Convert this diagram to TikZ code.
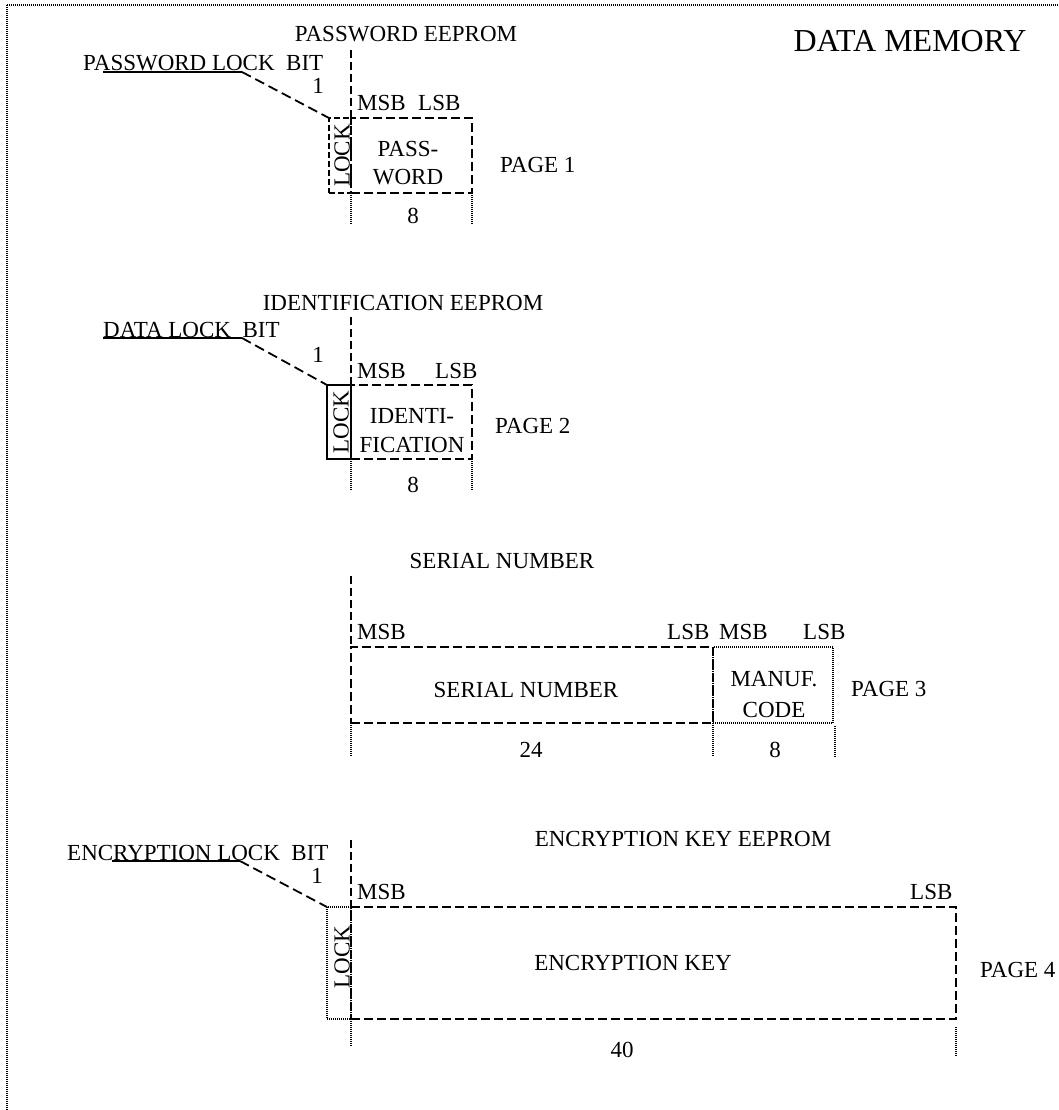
\documentclass[tikz,border=0pt]{standalone}
\usepackage{fontspec}
\setmainfont{Liberation Serif}

\begin{document}
\begin{tikzpicture}[x=1pt, y=1pt,
  txt/.style={inner sep=0pt, font=\fontsize{23}{28}\selectfont},
  title/.style={inner sep=0pt, font=\fontsize{32}{38}\selectfont},
  cell/.style={draw, line width=1.8pt, dash pattern=on 9pt off 4pt, inner sep=0pt, outer sep=0pt},
  lockcell/.style={draw, line width=1.6pt, inner sep=0pt, outer sep=0pt},
  guide/.style={line width=1.8pt, dash pattern=on 8pt off 4pt},
  dim/.style={line width=1.5pt, dash pattern=on 1pt off 1pt},
  leader/.style={line width=1.8pt, dash pattern=on 10pt off 5pt},
  uline/.style={line width=1.4pt}]
  \useasboundingbox (0,0) rectangle (1059,-1110);

  % Frame, top and left edges
  \draw[dim] (7,-5) -- (1059,-5);
  \draw[dim] (7,-5) -- (7,-1110);
  \node[title, anchor=base] (datamem) at (910,-52) {DATA MEMORY};

  % Page 1: password EEPROM
  \node[txt, anchor=base] (pwtitle) at (406,-42) {PASSWORD EEPROM};
  \node[txt, anchor=base west] (pwbit) at (83,-71) {PASSWORD LOCK\ \ BIT};
  \node[txt, anchor=base] (pwone) at (318,-94) {1};
  \node[txt, anchor=base west] (pwmsb) at (357,-111) {MSB};
  \node[txt, anchor=base west] (pwlsb) at (418,-111) {LSB};
  \node[cell, minimum width=121pt, minimum height=75pt] (pw) at (411.5,-155.5) {};
  \node[lockcell, dash pattern=on 6pt off 3pt, minimum width=22pt, minimum height=75pt] (lock1) at (340,-155.5) {};
  \node[txt, rotate=90] at ([xshift=2pt]lock1.center) {LOCK};
  \node[txt, anchor=base] at (408,-157) {PASS-};
  \node[txt, anchor=base] at (408,-185) {WORD};
  \node[txt, anchor=base] at (413,-223) {8};
  \node[txt, anchor=base west] (page1) at (500,-173) {PAGE 1};
  \coordinate (pwtop) at (351,-50);
  \draw[guide] (pwtop) -- (pw.north west);
  \draw[dim] (pw.south west) -- ++(0,-32);
  \draw[dim] (pw.south east) -- ++(0,-32);
  \coordinate (ul1a) at (103,-72);
  \coordinate (ul1b) at (242,-72);
  \draw[uline] (ul1a) -- (ul1b);
  \draw[leader] (ul1b) -- (lock1.north west);

  % Page 2: identification EEPROM
  \node[txt, anchor=base] (idtitle) at (403,-310) {IDENTIFICATION EEPROM};
  \node[txt, anchor=base west] (idbit) at (103,-337) {DATA LOCK\ \ BIT};
  \node[txt, anchor=base] (idone) at (318,-362) {1};
  \node[txt, anchor=base west] (idmsb) at (357,-378) {MSB};
  \node[txt, anchor=base west] (idlsb) at (435,-378) {LSB};
  \node[cell, minimum width=121pt, minimum height=74pt] (ident) at (411.5,-422) {};
  \node[lockcell, minimum width=24pt, minimum height=74pt] (lock2) at (339,-422) {};
  \node[txt, rotate=90] at ([xshift=2pt]lock2.center) {LOCK};
  \node[txt, anchor=base] at (412,-423) {IDENTI-};
  \node[txt, anchor=base] at (412,-452) {FICATION};
  \node[txt, anchor=base] at (413,-492) {8};
  \node[txt, anchor=base west] (page2) at (495,-433) {PAGE 2};
  \coordinate (idtop) at (351,-317);
  \draw[guide] (idtop) -- (ident.north west);
  \draw[dim] (ident.south west) -- ++(0,-31);
  \draw[dim] (ident.south east) -- ++(0,-31);
  \coordinate (ul2a) at (103,-338);
  \coordinate (ul2b) at (242,-338);
  \draw[uline] (ul2a) -- (ul2b);
  \draw[leader] (ul2b) -- (lock2.north west);

  % Page 3: serial number
  \node[txt, anchor=base] (sntitle) at (502,-568) {SERIAL NUMBER};
  \node[txt, anchor=base west] (snmsb) at (357,-639) {MSB};
  \node[txt, anchor=base west] (snlsb) at (667,-639) {LSB};
  \node[txt, anchor=base west] (mcmsb) at (719,-639) {MSB};
  \node[txt, anchor=base west] (mclsb) at (803,-639) {LSB};
  \node[cell, minimum width=362pt, minimum height=76pt] (serial) at (532,-685) {};
  \node[draw, dim, inner sep=0pt, outer sep=0pt, minimum width=120pt, minimum height=76pt] (manuf) at (773,-685) {};
  \node[txt, anchor=base] at (526,-697) {SERIAL NUMBER};
  \node[txt, anchor=base] at (774,-686) {MANUF.};
  \node[txt, anchor=base] at (774,-717) {CODE};
  \node[txt, anchor=base] at (531,-757) {24};
  \node[txt, anchor=base] at (775,-757) {8};
  \node[txt, anchor=base west] (page3) at (851,-696) {PAGE 3};
  \coordinate (sntop) at (351,-576);
  \draw[guide] (sntop) -- (serial.north west);
  \draw[dim] (serial.south west) -- ++(0,-34);
  \draw[dim] (serial.south east) -- ++(0,-34);
  \draw[dim] ([xshift=2pt,yshift=-3pt]manuf.south east) -- ++(0,-31);

  % Page 4: encryption key EEPROM
  \node[txt, anchor=base] (keytitle) at (683,-846) {ENCRYPTION KEY EEPROM};
  \node[txt, anchor=base west] (keybit) at (67,-860) {ENCRYPTION LOCK\ \ BIT};
  \node[txt, anchor=base] (keyone) at (317,-883) {1};
  \node[txt, anchor=base west] (keymsb) at (357,-899) {MSB};
  \node[txt, anchor=base west] (keylsb) at (910,-899) {LSB};
  \node[cell, minimum width=605pt, minimum height=112pt] (key) at (653.5,-963) {};
  \node[draw, dim, inner sep=0pt, outer sep=0pt, minimum width=24pt, minimum height=112pt] (lock4) at (339,-963) {};
  \node[txt, rotate=90] at ([xshift=3pt,yshift=6pt]lock4.center) {LOCK};
  \node[txt, anchor=base] at (633,-970) {ENCRYPTION KEY};
  \node[txt, anchor=base] at (622,-1057) {40};
  \node[txt, anchor=base west] (page4) at (980,-977) {PAGE 4};
  \coordinate (keytop) at (351,-840);
  \draw[guide] (keytop) -- (key.north west);
  \draw[dim] (key.south west) -- ++(0,-28);
  \draw[dim] ([yshift=-8pt]key.south east) -- ++(0,-30);
  \coordinate (ul4a) at (112,-861);
  \coordinate (ul4b) at (240,-861);
  \draw[uline] (ul4a) -- (ul4b);
  \draw[leader] (ul4b) -- (lock4.north west);
\end{tikzpicture}
\end{document}
